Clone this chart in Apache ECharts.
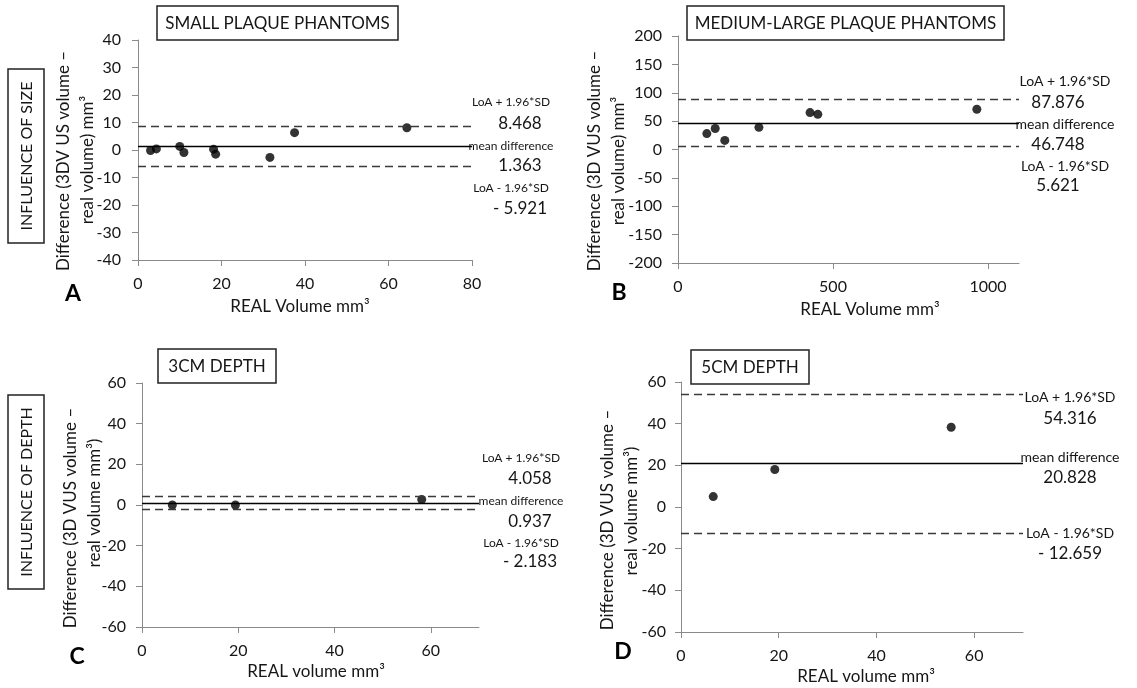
<!DOCTYPE html>
<html>
<head>
<meta charset="utf-8">
<title>Bland-Altman plots</title>
<script src="https://cdn.jsdelivr.net/npm/echarts@6/dist/echarts.min.js"></script>
<style>
  html, body { margin: 0; padding: 0; background: #fff; }
  #chart { width: 1137px; height: 688px; }
</style>
</head>
<body>
<div id="chart"></div>
<script>
// ---- data ----
// A: small plaque phantoms
const smallReal = [3.0, 4.4, 10.0, 11.0, 18.1, 18.6, 31.6, 37.5, 64.4]
const smallDiff = [-0.2, 0.4, 1.3, -0.9, 0.3, -1.5, -2.7, 6.3, 8.1]
const smallLines = [8.468, 1.363, -5.921]   // LoA+, mean, LoA-

// B: medium-large plaque phantoms
const largeReal = [93, 120, 151, 261, 426, 451, 964]
const largeDiff = [28, 37, 16, 39, 65, 62, 71]
const largeLines = [87.876, 46.748, 5.621]

// C: 3cm depth
const depth3Real = [6.3, 19.4, 58.1]
const depth3Diff = [0, 0, 2.7]
const depth3Lines = [4.058, 0.937, -2.183]

// D: 5cm depth
const depth5Real = [6.6, 19.2, 55.3]
const depth5Diff = [5, 18, 38.3]
const depth5Lines = [54.316, 20.828, -12.659]

const panelTitles = ['SMALL PLAQUE PHANTOMS', 'MEDIUM-LARGE PLAQUE PHANTOMS', '3CM DEPTH', '5CM DEPTH']
const panelLetters = ['A', 'B', 'C', 'D']
const lineLabels = ['LoA + 1.96*SD', 'mean difference', 'LoA - 1.96*SD']
const xNames = ['REAL Volume mm³', 'REAL Volume mm³', 'REAL volume mm³', 'REAL volume mm³']
const yNames = [
  ['Difference (3DV US volume –', 'real volume) mm³'],
  ['Difference (3D VUS volume –', 'real volume) mm³'],
  ['Difference (3D VUS volume –', 'real volume mm³)'],
  ['Difference (3D VUS volume –', 'real volume mm³)']
]
const rowLabels = ['INFLUENCE OF SIZE', 'INFLUENCE OF DEPTH']

// axis ranges [xMin, xMax, xStep, yMin, yMax, yStep]
const xTicks = [[0, 20, 40, 60, 80], [0, 500, 1000], [0, 20, 40, 60], [0, 20, 40, 60]]
const axisRanges = [
  [0, 80, 20, -40, 40, 10],
  [0, 1100, 500, -200, 200, 50],
  [0, 70, 20, -60, 60, 20],
  [0, 70, 20, -60, 60, 20]
]

// ---- layout ----
const font = 'Lato, "Open Sans", sans-serif'
const txt = '#161616'
const grids = [
  {left: 138, top: 40, width: 334, height: 220},
  {left: 678, top: 36, width: 341, height: 227},
  {left: 142, top: 383, width: 337, height: 244},
  {left: 681, top: 382, width: 342, height: 250}
]
const yLabelMargin = [17, 16, 16, 15]
const titleBoxes = [[157, 6, 241, 34], [687, 6, 317, 34], [158, 349, 118, 34], [691, 350, 118, 34]]
const letterPos = [[73, 294], [619, 293], [77, 657], [623, 652]]
const xNamePos = [[300, 307], [870, 310], [316, 672], [866, 677]]
const yNamePos = [[[64, 161], [88, 160]], [[595, 161], [619, 161]], [[71, 518], [95, 503]], [[608, 520], [632, 511]]]
const rowBoxes = [[8, 69, 36, 174], [8, 395, 36, 194]]
// annotation positions: [labelX, numberX, y of 6 rows, label font size]
const annoPos = [
  [511, 520, [102, 124, 146, 166, 188, 209], 12],
  [1065, 1058, [81, 103, 124, 145, 166, 186], 14],
  [521, 530, [458, 479, 501, 522, 543, 562], 12],
  [1070, 1070, [397, 419, 457, 478, 533, 554], 14]
]

const fmt = v => v < 0 ? '- ' + Math.abs(v).toFixed(3) : v.toFixed(3)

const chart = echarts.init(document.getElementById('chart'))

const realSets = [smallReal, largeReal, depth3Real, depth5Real]
const diffSets = [smallDiff, largeDiff, depth3Diff, depth5Diff]
const lineSets = [smallLines, largeLines, depth3Lines, depth5Lines]

let xAxes = []
let yAxes = []
let series = []
let graphic = []

for (let i = 0; i < 4; i++) {
  const r = axisRanges[i]
  xAxes.push({
    gridIndex: i, type: 'value', min: r[0], max: r[1], interval: r[2],
    axisLine: {show: true, onZero: false, lineStyle: {color: '#8a8a8a', width: 1}},
    axisTick: {show: true, length: 6, customValues: xTicks[i], lineStyle: {color: '#8a8a8a'}},
    splitLine: {show: false},
    axisLabel: {customValues: xTicks[i], formatter: v => String(v), margin: 16, fontSize: 16, color: txt, fontFamily: font}
  })
  yAxes.push({
    gridIndex: i, type: 'value', min: r[3], max: r[4], interval: r[5],
    axisLine: {show: true, onZero: false, lineStyle: {color: '#8a8a8a', width: 1}},
    axisTick: {show: true, length: 6, lineStyle: {color: '#8a8a8a'}},
    splitLine: {show: false},
    axisLabel: {margin: yLabelMargin[i], fontSize: 16, color: txt, fontFamily: font}
  })
  const lines = lineSets[i]
  series.push({
    type: 'scatter', xAxisIndex: i, yAxisIndex: i,
    data: realSets[i].map((x, k) => [x, diffSets[i][k]]),
    symbolSize: 9,
    itemStyle: {color: '#000'},
    silent: true,
    markLine: {
      silent: true, symbol: 'none', animation: false,
      label: {show: false},
      data: [
        {yAxis: lines[0], lineStyle: {type: [8, 5], color: '#3a3a3a', width: 1.3}},
        {yAxis: lines[1], lineStyle: {type: 'solid', color: '#000', width: 1.3}},
        {yAxis: lines[2], lineStyle: {type: [8, 5], color: '#3a3a3a', width: 1.3}}
      ]
    }
  })

  // title box
  const b = titleBoxes[i]
  graphic.push({type: 'rect', shape: {x: b[0], y: b[1], width: b[2], height: b[3]},
    style: {fill: '#fff', stroke: '#222', lineWidth: 1.5}, z: 10})
  graphic.push({type: 'text', x: b[0] + b[2] / 2, y: b[1] + b[3] / 2 + 1, z: 11,
    style: {text: panelTitles[i], fill: txt, font: '17px ' + font, textAlign: 'center', textVerticalAlign: 'middle'}})

  // panel letter
  graphic.push({type: 'text', x: letterPos[i][0], y: letterPos[i][1],
    style: {text: panelLetters[i], fill: '#000', font: 'bold 23px ' + font, textAlign: 'center', textVerticalAlign: 'middle'}})

  // axis names
  graphic.push({type: 'text', x: xNamePos[i][0], y: xNamePos[i][1],
    style: {text: xNames[i], fill: txt, font: '17px ' + font, textAlign: 'center', textVerticalAlign: 'middle'}})
  for (let k = 0; k < 2; k++) {
    graphic.push({type: 'text', x: yNamePos[i][k][0], y: yNamePos[i][k][1], rotation: Math.PI / 2,
      style: {text: yNames[i][k], fill: txt, font: '17px ' + font, textAlign: 'center', textVerticalAlign: 'middle'}})
  }

  // line annotations
  const a = annoPos[i]
  for (let k = 0; k < 3; k++) {
    graphic.push({type: 'text', x: a[0], y: a[2][k * 2],
      style: {text: lineLabels[k], fill: txt, font: a[3] + 'px ' + font, textAlign: 'center', textVerticalAlign: 'middle'}})
    graphic.push({type: 'text', x: a[1], y: a[2][k * 2 + 1],
      style: {text: fmt(lines[k]), fill: txt, font: '17px ' + font, textAlign: 'center', textVerticalAlign: 'middle'}})
  }
}

// row labels on the left
for (let j = 0; j < 2; j++) {
  const rb = rowBoxes[j]
  graphic.push({type: 'rect', shape: {x: rb[0], y: rb[1], width: rb[2], height: rb[3]},
    style: {fill: '#fff', stroke: '#222', lineWidth: 1.5}})
  graphic.push({type: 'text', x: rb[0] + rb[2] / 2 + 1, y: rb[1] + rb[3] / 2, rotation: Math.PI / 2,
    style: {text: rowLabels[j], fill: txt, font: '16px ' + font, textAlign: 'center', textVerticalAlign: 'middle'}})
}

chart.setOption({
  animation: false,
  backgroundColor: '#fff',
  grid: grids,
  xAxis: xAxes,
  yAxis: yAxes,
  series: series,
  graphic: graphic
})
</script>
</body>
</html>
